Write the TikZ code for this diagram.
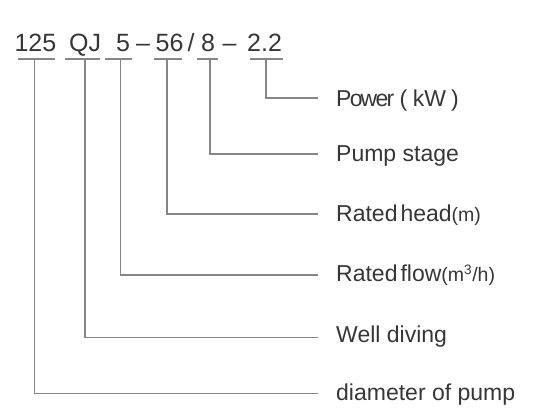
\documentclass[tikz,border=0pt]{standalone}
\usepackage{fontspec}
\setmainfont{Liberation Sans}
\definecolor{txt}{HTML}{363636}
\definecolor{ln}{HTML}{868686}
\newcommand{\unitsz}{\fontsize{19.5}{22}\selectfont}
\begin{document}
\begin{tikzpicture}[x=1pt,y=-1pt,
  code/.style={anchor=base west, inner sep=0pt, text=txt, font=\fontsize{25}{30}\selectfont},
  lab/.style={anchor=base west, inner sep=0pt, text=txt, font=\fontsize{23}{28}\selectfont},
  conn/.style={draw=ln, line width=1.3pt}]
\useasboundingbox (0,0) rectangle (554,419);
% code text
\node[code] (c1) at (14.3,52) {125};
\node[code] (c2) at (69,52) {QJ};
\node[code] (c3) at (116,52) {5};
\node[code] (d1) at (136,52) {–};
\node[code] (c4) at (155.5,52) {56};
\node[code] (s1) at (187.5,52) {/};
\node[code] (c5) at (201,52) {8};
\node[code] (d2) at (222.5,52) {–};
\node[code] (c6) at (247,52) {2.2};
% bars
\coordinate (b1l) at (18,59);  \coordinate (b1r) at (55,59);  \coordinate (m1) at (34.5,59);
\coordinate (b2l) at (65,59);  \coordinate (b2r) at (100,59); \coordinate (m2) at (85,59);
\coordinate (b3l) at (105,59); \coordinate (b3r) at (132,59); \coordinate (m3) at (120.5,59);
\coordinate (b4l) at (154,59); \coordinate (b4r) at (182,59); \coordinate (m4) at (167,59);
\coordinate (b5l) at (197,59); \coordinate (b5r) at (218,59); \coordinate (m5) at (210,59);
\coordinate (b6l) at (250,59); \coordinate (b6r) at (283,59); \coordinate (m6) at (266,59);
\foreach \i in {1,...,6} {\draw[conn] (b\i l) -- (b\i r);}
% line ends
\coordinate (e6) at (318,98);
\coordinate (e5) at (318,154);
\coordinate (e4) at (318,214);
\coordinate (e3) at (318,275);
\coordinate (e2) at (318,337.5);
\coordinate (e1) at (318,393.5);
\foreach \i in {1,...,6} {\draw[conn] (m\i) |- (e\i);}
% labels
\node[lab] (l6) at (336,106.7) {P\kern-1.8pt o\kern-1.8pt w\kern-1.8pt e\kern-1.8pt r\hspace{5.5pt}(\hspace{5.5pt}kW\hspace{5pt})};
\node[lab] (l5) at (336,161.7) {Pump stage};
\node[lab] (l4) at (336,221.7) {Rated\hspace{3pt}head{\unitsz(m)}};
\node[lab] (l3) at (336,281.7) {Rated\hspace{3pt}flow{\unitsz(m\textsuperscript{3}/h)}};
\node[lab] (l2) at (336,343) {Well diving};
\node[lab] (l1) at (336,400.3) {diameter of pump};
\end{tikzpicture}
\end{document}
